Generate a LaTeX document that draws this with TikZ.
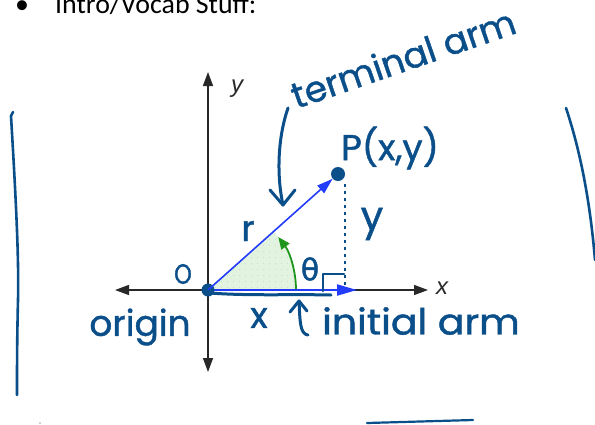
\documentclass[tikz,border=0pt]{standalone}
\usepackage{fontspec}
\setmainfont{Carlito}
\newfontfamily\hand[FakeBold=1.2]{Poppins}
\newfontfamily\handg[FakeBold=1.6]{DejaVu Sans}
\newfontfamily\axfont{Liberation Sans}
\usetikzlibrary{arrows.meta,patterns.meta}
\definecolor{navy}{RGB}{11,79,138}
\definecolor{vecblue}{RGB}{35,60,250}
\definecolor{arcgreen}{RGB}{30,150,30}
\definecolor{sectfill}{RGB}{226,244,224}
\definecolor{axgray}{RGB}{40,40,40}
\tikzset{
  axis/.style={draw=axgray,line width=1.4bp,{Triangle[length=14bp,width=10bp]}-{Triangle[length=14bp,width=10bp]}},
  hand/.style={draw=navy,line width=3bp,line cap=round,line join=round},
  handtext/.style={text=navy,font=\hand\fontsize{36}{40}\selectfont,inner sep=0pt},
  dotnode/.style={circle,fill=navy,inner sep=0pt,minimum size=13bp},
  vec/.style={draw=vecblue,line width=1.6bp,-{Triangle[length=16bp,width=10bp]}},
  axlabel/.style={font=\axfont\itshape\fontsize{24}{28}\selectfont,text=axgray,inner sep=0pt}
}
\begin{document}
\begin{tikzpicture}[x=1bp,y=-1bp]
\useasboundingbox (0,0) rectangle (595,424);
\clip (0,0) rectangle (595,424);
\fill[white] (0,0) rectangle (595,424);
% header
\node[anchor=base,inner sep=0pt,font=\fontsize{28}{32}\selectfont] (bul) at (22,13) {•};
\node[anchor=base west,inner sep=0pt,font=\fontsize{28}{32}\selectfont] (head) at (55,13) {Intro/Vocab Stuff:};
% sector
\coordinate (Oc) at (208,290);
\fill[sectfill] (Oc) -- ++(88,0) arc[start angle=0,end angle=-41.7,radius=88] -- cycle;
\fill[pattern={Dots[distance=6bp,radius=0.5bp]},pattern color=black!22] (Oc) -- ++(88,0) arc[start angle=0,end angle=-41.7,radius=88] -- cycle;
% axes
\coordinate (xl) at (115,290);
\coordinate (xr) at (428,290);
\coordinate (yt) at (208,72);
\coordinate (yb) at (208,372);
\draw[axis] (xl) -- (xr);
\draw[axis] (yb) -- (yt);
\node[axlabel] (xlab) at (442,288) {x};
\node[axlabel] (ylab) at (237,89) {y};
% green angle arc
\draw[draw=arcgreen,line width=1.8bp,-{Triangle[length=12bp,width=10bp]}] (Oc) ++(88,0) arc[start angle=0,end angle=-37,radius=88];
% blue x arrow
\coordinate (xa) at (357,290);
\draw[draw=vecblue,line width=2bp,-{Triangle[length=20bp,width=11bp]}] (Oc) -- (xa);
% handwritten underline
\draw[hand] (210,293) .. controls (250,296) and (290,294) .. (331,295);
% dots and vector
\node[dotnode] (O) at (208,290) {};
\node[dotnode,minimum size=14bp] (P) at (338,174) {};
\draw[vec] (O.center) -- (P);
% dotted line and right angle
\coordinate (Ptop) at (345,184);
\coordinate (Pfoot) at (345,289);
\draw[draw=navy,line width=2.8bp,dash pattern=on 3bp off 4bp] (Ptop) -- (Pfoot);
\coordinate (ra1) at (323,291);
\coordinate (ra2) at (323,274);
\coordinate (ra3) at (344,274);
\draw[hand,line width=2.6bp] (ra1) -- (ra2) -- (ra3);
% labels
\node[handtext,rotate=19] (term) at (403,58) {terminal arm};
\coordinate (t1) at (288,108);
\coordinate (t2) at (283,205);
\draw[hand] (t1) .. controls (277,140) and (277,178) .. (t2);
\draw[hand] (270,190) -- (t2) -- (295,190);
\node[handtext] (Plab) at (390,148) {P(x,y)};
\node[handtext] (rlab) at (248,231) {r};
\node[handtext,font=\hand\fontsize{40}{44}\selectfont] (ylab2) at (372,224) {y};
\node[handtext,font=\handg\fontsize{30}{34}\selectfont] (th) at (310,269) {θ};
\node[handtext,font=\hand\fontsize{28}{32}\selectfont,xscale=0.8] (Olab) at (183,274) {O};
\node[handtext] (xlab2) at (259,318) {x};
\node[handtext] (orig) at (140,327) {origin};
\node[handtext,xscale=1.1] (init) at (421,321) {initial arm};
\coordinate (h1) at (308,335);
\coordinate (h2) at (299,301);
\draw[hand] (h1) .. controls (300,334) and (300,322) .. (h2);
\draw[hand] (290,312) -- (h2) -- (307,311);
% side strokes
\draw[hand,line width=2.6bp] (13,112) -- (11,116) .. controls (16,200) and (19,260) .. (18,300) .. controls (17,340) and (17,370) .. (17,395);
\draw[hand,line width=2.6bp] (566,108) .. controls (580,150) and (590,200) .. (595,260);
\draw[hand,line width=2.2bp] (367,423) -- (473,420);
\fill[navy!50] (40,423) circle (0.8bp);
\end{tikzpicture}
\end{document}
